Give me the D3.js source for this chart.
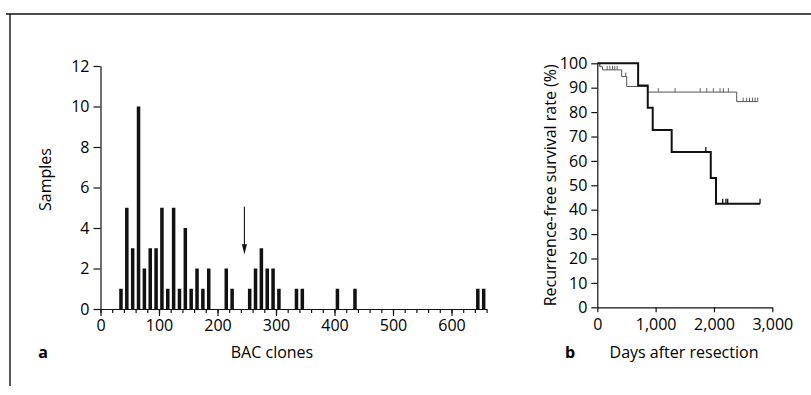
<!DOCTYPE html>
<html>
<head>
<meta charset="utf-8">
<script src="https://cdn.jsdelivr.net/npm/d3@7"></script>
<style>
  body { margin: 0; background: #fff; }
  svg { font-family: "Open Sans", "Noto Sans", sans-serif; }
  .axis path, .axis line { stroke: #111; stroke-width: 1.2; }
</style>
</head>
<body>
<div id="chart"></div>
<script>
// Panel a: number of samples per BAC clone bin
const binCenters = [35, 45, 55, 65, 75, 85, 95, 105, 115, 125, 135, 145, 155, 165, 175, 185,
                    215, 225, 255, 265, 275, 285, 295, 305, 335, 345, 405, 435, 645, 655];
const sampleCounts = [1, 5, 3, 10, 2, 3, 3, 5, 1, 5, 1, 4, 1, 2, 1, 2,
                      2, 1, 1, 2, 3, 2, 2, 1, 1, 1, 1, 1, 1, 1];
const arrowClone = 246;
const sampleTicks = [0, 2, 4, 6, 8, 10, 12];
const cloneTicks = [0, 100, 200, 300, 400, 500, 600];

// Panel b: Kaplan-Meier curves (step times, survival %)
const thickSteps = [[0, 100], [700, 90.9], [865, 81.8], [950, 72.7], [1275, 63.6], [1945, 53.0], [2035, 42.4], [2790, 42.4]];
const thickCensored = [[1860, 63.6], [2150, 42.4], [2205, 42.4], [2235, 42.4], [2790, 42.4]];
const thinSteps = [[0, 100], [45, 98.6], [90, 97.3], [418, 94.6], [504, 90.5], [860, 88.2], [2390, 84.3], [2750, 84.3]];
const thinCensored = [[40, 98.6], [170, 97.3], [215, 97.3], [260, 97.3], [300, 97.3], [340, 97.3], [487, 94.6],
                      [1046, 88.2], [1333, 88.2], [1762, 88.2], [1876, 88.2], [1990, 88.2], [2104, 88.2], [2161, 88.2], [2247, 88.2],
                      [2500, 84.3], [2560, 84.3], [2610, 84.3], [2660, 84.3], [2705, 84.3], [2750, 84.3]];
const survivalTicks = [0, 10, 20, 30, 40, 50, 60, 70, 80, 90, 100];
const dayTicks = [0, 1000, 2000, 3000];

const width = 811;
const height = 395;
const fontSize = 16;

const svg = d3.select("#chart")
    .append("svg")
    .attr("width", width)
    .attr("height", height);

function styleAxis(g) {
    g.attr("font-size", fontSize).attr("font-family", null);
    g.selectAll("text").attr("fill", "#000");
}

// Outer frame (top and left edges)
svg.append("line").attr("x1", 6).attr("x2", 811).attr("y1", 14).attr("y2", 14)
    .attr("stroke", "#111").attr("stroke-width", 1.6);
svg.append("line").attr("x1", 10).attr("x2", 10).attr("y1", 14).attr("y2", 386)
    .attr("stroke", "#111").attr("stroke-width", 1.4);

// ---------- Panel a ----------
const xa = d3.scaleLinear().domain([0, 660]).range([100.5, 486.6]);
const ya = d3.scaleLinear().domain([0, 12]).range([309, 66]);

svg.append("g").attr("class", "axis")
    .attr("transform", `translate(${xa(0)},0)`)
    .call(d3.axisLeft(ya).tickValues(sampleTicks).tickSize(7).tickSizeOuter(0).tickPadding(4))
    .call(styleAxis);

// minor ticks on x every 20
svg.append("g").attr("class", "axis")
    .attr("transform", `translate(0,${ya(0)})`)
    .call(d3.axisBottom(xa).tickValues(d3.range(0, 661, 20)).tickSize(4).tickSizeOuter(0).tickFormat(""));
svg.append("g").attr("class", "axis")
    .attr("transform", `translate(0,${ya(0)})`)
    .call(d3.axisBottom(xa).tickValues(cloneTicks).tickSize(7).tickSizeOuter(0).tickPadding(4))
    .call(styleAxis)
    .select(".domain").remove();

const barW = xa(6) - xa(0);
svg.append("g").selectAll("rect")
    .data(binCenters)
    .enter().append("rect")
    .attr("x", (d) => xa(d) - barW / 2)
    .attr("width", barW)
    .attr("y", (d, i) => ya(sampleCounts[i]))
    .attr("height", (d, i) => ya(0) - ya(sampleCounts[i]))
    .attr("fill", "#111");

// arrow marking a clone
svg.append("line")
    .attr("x1", xa(arrowClone)).attr("x2", xa(arrowClone))
    .attr("y1", ya(5.05)).attr("y2", ya(3.0))
    .attr("stroke", "#111").attr("stroke-width", 1.1);
svg.append("path")
    .attr("d", `M${xa(arrowClone) - 2.5},${ya(3.2)} L${xa(arrowClone) + 2.5},${ya(3.2)} L${xa(arrowClone)},${ya(2.7)} Z`)
    .attr("fill", "#111");

svg.append("text")
    .attr("transform", `translate(47,${(ya(0) + ya(12)) / 2 - 8}) rotate(-90)`)
    .attr("text-anchor", "middle").attr("dominant-baseline", "middle")
    .attr("font-size", fontSize).attr("fill", "#000")
    .text("Samples");
svg.append("text")
    .attr("x", 272).attr("y", 358)
    .attr("text-anchor", "middle").attr("font-size", fontSize).attr("fill", "#000")
    .text("BAC clones");
svg.append("text")
    .attr("x", 43).attr("y", 358)
    .attr("text-anchor", "middle").attr("font-size", fontSize).attr("font-weight", "bold").attr("fill", "#000")
    .text("a");

// ---------- Panel b ----------
const xb = d3.scaleLinear().domain([0, 3000]).range([597.3, 772.3]);
const yb = d3.scaleLinear().domain([0, 100]).range([307.3, 63.3]);

svg.append("g").attr("class", "axis")
    .attr("transform", `translate(${xb(0)},0)`)
    .call(d3.axisLeft(yb).tickValues(survivalTicks).tickSize(6).tickSizeOuter(0).tickPadding(4))
    .call(styleAxis);
svg.append("g").attr("class", "axis")
    .attr("transform", `translate(0,${yb(0)})`)
    .call(d3.axisBottom(xb).tickValues(dayTicks).tickSize(5).tickSizeOuter(0).tickPadding(6)
        .tickFormat(d3.format(",")))
    .call(styleAxis);

const line = d3.line()
    .x((d) => xb(d[0]))
    .y((d) => yb(d[1]))
    .curve(d3.curveStepAfter);

svg.append("path").datum(thinSteps)
    .attr("d", line).attr("fill", "none")
    .attr("stroke", "#555").attr("stroke-width", 1);
svg.append("g").selectAll("line")
    .data(thinCensored)
    .enter().append("line")
    .attr("x1", (d) => xb(d[0])).attr("x2", (d) => xb(d[0]))
    .attr("y1", (d) => yb(d[1])).attr("y2", (d) => yb(d[1]) - 4)
    .attr("stroke", "#555").attr("stroke-width", 0.9);

svg.append("path").datum(thickSteps)
    .attr("d", line).attr("fill", "none")
    .attr("stroke", "#111").attr("stroke-width", 2);
svg.append("g").selectAll("line")
    .data(thickCensored)
    .enter().append("line")
    .attr("x1", (d) => xb(d[0])).attr("x2", (d) => xb(d[0]))
    .attr("y1", (d) => yb(d[1])).attr("y2", (d) => yb(d[1]) - 5)
    .attr("stroke", "#111").attr("stroke-width", 1.3);

svg.append("text")
    .attr("transform", `translate(552,${(yb(0) + yb(100)) / 2}) rotate(-90)`)
    .attr("text-anchor", "middle").attr("dominant-baseline", "middle")
    .attr("font-size", fontSize).attr("fill", "#000")
    .text("Recurrence-free survival rate (%)");
svg.append("text")
    .attr("x", 684).attr("y", 358)
    .attr("text-anchor", "middle").attr("font-size", fontSize).attr("fill", "#000")
    .text("Days after resection");
svg.append("text")
    .attr("x", 570).attr("y", 358)
    .attr("text-anchor", "middle").attr("font-size", fontSize).attr("font-weight", "bold").attr("fill", "#000")
    .text("b");
</script>
</body>
</html>
